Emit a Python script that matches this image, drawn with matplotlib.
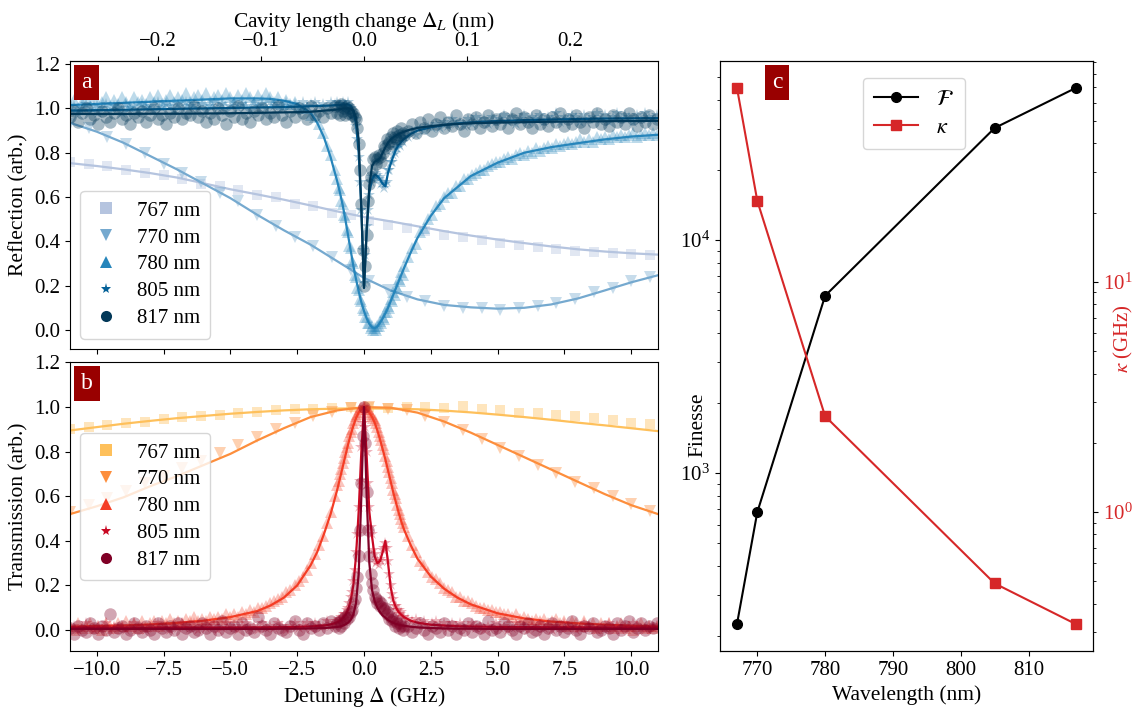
import numpy as np
import matplotlib
matplotlib.use("Agg")
import matplotlib.pyplot as plt
from matplotlib.ticker import MultipleLocator, FormatStrFormatter

plt.rcParams["font.family"] = ["Liberation Serif", "DejaVu Serif"]
plt.rcParams["mathtext.fontset"] = "stix"
plt.rcParams["font.size"] = 15

# ---------------- data ----------------
series_labels = ["767 nm", "770 nm", "780 nm", "805 nm", "817 nm"]
markers = ["s", "v", "^", "*", "o"]

# detuning grids (GHz)
det_sparse = np.round(np.arange(-11.0, 11.0, 0.7), 1)
det_dense = np.round(np.concatenate([np.arange(-11.0, -1.05, 0.15),
                                     np.arange(-1.0, 1.525, 0.05),
                                     np.arange(1.65, 10.96, 0.15)]), 2)
det_broad = np.arange(-11, 12, 1)
det_fit = [-11, -10, -9, -8, -7, -6, -5, -4, -3.5, -3, -2.5, -2, -1.75, -1.5, -1.25,
           -1.0, -0.9, -0.8, -0.7, -0.6, -0.5, -0.4, -0.3, -0.2, -0.1, 0.0, 0.1, 0.2,
           0.3, 0.4, 0.5, 0.6, 0.7, 0.8, 0.9, 1.0, 1.1, 1.2, 1.3, 1.4, 1.5, 1.75, 2.0,
           2.5, 3, 3.5, 4, 5, 6, 7, 8, 9, 10, 11]

# reflection, measured
refl_767 = [0.76, 0.75, 0.74, 0.72, 0.71, 0.70, 0.68, 0.66, 0.65, 0.63, 0.61, 0.60,
            0.57, 0.56, 0.53, 0.52, 0.49, 0.475, 0.46, 0.445, 0.43, 0.418, 0.405,
            0.393, 0.382, 0.374, 0.366, 0.358, 0.352, 0.347, 0.342, 0.338]
refl_770 = [0.93, 0.91, 0.87, 0.84, 0.80, 0.75, 0.71, 0.67, 0.62, 0.58, 0.52, 0.47,
            0.42, 0.38, 0.33, 0.27, 0.22, 0.18, 0.15, 0.13, 0.11, 0.10, 0.10, 0.09,
            0.10, 0.11, 0.12, 0.14, 0.17, 0.19, 0.22, 0.24]
refl_780 = [1.02, 1.04, 1.00, 1.03, 1.05, 1.01, 1.04, 1.02, 1.03, 1.05,
            1.01, 1.04, 1.02, 1.05, 1.03, 1.01, 1.05, 1.03, 1.04, 1.02,
            1.05, 1.03, 1.06, 1.02, 1.04, 1.06, 1.03, 1.05, 1.04, 1.07,
            1.03, 1.05, 1.06, 1.04, 1.07, 1.03, 1.05, 1.06, 1.04, 1.07,
            1.05, 1.03, 1.06, 1.04, 1.07, 1.05, 1.03, 1.06, 1.04, 1.07,
            1.05, 1.03, 1.05, 1.02, 1.04, 1.02, 1.03, 1.01, 1.00, 1.00,
            0.97, 0.96, 0.93, 0.89, 0.83, 0.79, 0.72,
            0.68, 0.64, 0.63, 0.58, 0.57, 0.52, 0.51, 0.45, 0.44, 0.38,
            0.37, 0.31, 0.30, 0.25, 0.24, 0.19, 0.18, 0.14, 0.13, 0.10,
            0.09, 0.06, 0.06, 0.03, 0.03, 0.01, 0.02, 0.00, 0.01, 0.00,
            0.02, 0.02, 0.04, 0.03, 0.06, 0.05, 0.08, 0.08, 0.11, 0.10,
            0.14, 0.13, 0.17, 0.16, 0.20, 0.19, 0.23, 0.22, 0.26, 0.25,
            0.29,
            0.33, 0.37, 0.39, 0.44, 0.46, 0.50, 0.52, 0.56, 0.57, 0.60,
            0.62, 0.62, 0.65, 0.65, 0.68, 0.68, 0.70, 0.71, 0.72, 0.72,
            0.74, 0.75, 0.76, 0.76, 0.77, 0.78, 0.77, 0.79, 0.80, 0.79,
            0.81, 0.80, 0.82, 0.81, 0.82, 0.83, 0.82, 0.84, 0.83, 0.84,
            0.85, 0.84, 0.85, 0.86, 0.85, 0.86, 0.85, 0.87, 0.86, 0.87,
            0.86, 0.88, 0.87, 0.88, 0.87, 0.88, 0.89, 0.87, 0.88, 0.89,
            0.88, 0.89, 0.88]
refl_805 = [0.99, 1.01, 0.98, 1.00, 1.02, 0.99, 1.01, 0.98, 1.00, 1.02,
            0.99, 1.01, 1.00, 0.98, 1.02, 1.00, 1.01, 0.99, 1.02, 1.00,
            1.01, 0.99, 1.03, 1.00, 1.02, 1.01, 0.99, 1.02, 1.00, 1.03,
            1.01, 1.02, 1.00, 1.02, 0.99, 1.01, 1.03, 1.00, 1.02, 0.99,
            1.01, 1.03, 1.00, 1.02, 1.01, 0.99, 1.03, 1.01, 1.02, 1.00,
            1.03, 1.01, 1.02, 1.00, 1.03, 1.01, 1.02, 1.00, 1.03, 1.01,
            1.02, 1.03, 1.01, 1.02, 1.00, 1.03, 1.02,
            1.03, 1.01, 1.02, 1.00, 1.03, 1.01, 1.02, 1.00, 1.03, 1.01,
            1.00, 0.99, 0.97, 0.95, 0.92, 0.86, 0.78, 0.67, 0.54, 0.36,
            0.21, 0.34, 0.47, 0.54, 0.61, 0.67, 0.69, 0.68, 0.71, 0.69,
            0.70, 0.68, 0.69, 0.66, 0.67, 0.64, 0.66, 0.67, 0.72, 0.72,
            0.76, 0.76, 0.79, 0.80, 0.82, 0.82, 0.84, 0.83, 0.86, 0.85,
            0.87,
            0.87, 0.90, 0.88, 0.91, 0.90, 0.92, 0.91, 0.93, 0.91, 0.94,
            0.92, 0.95, 0.93, 0.94, 0.92, 0.95, 0.93, 0.96, 0.94, 0.95,
            0.93, 0.96, 0.94, 0.95, 0.97, 0.94, 0.96, 0.93, 0.95, 0.97,
            0.94, 0.96, 0.95, 0.97, 0.94, 0.96, 0.95, 0.98, 0.94, 0.96,
            0.95, 0.97, 0.96, 0.94, 0.97, 0.95, 0.96, 0.98, 0.95, 0.97,
            0.94, 0.96, 0.98, 0.95, 0.97, 0.96, 0.94, 0.97, 0.95, 0.98,
            0.96, 0.95, 0.97]
refl_817 = [0.96, 0.99, 0.94, 0.98, 1.00, 0.95, 0.97, 0.93, 0.99, 0.96,
            0.94, 0.98, 1.00, 0.95, 0.97, 0.93, 0.98, 0.96, 0.99, 0.94,
            0.97, 1.00, 0.95, 0.97, 0.93, 0.98, 0.96, 1.00, 0.95, 0.98,
            0.97, 1.01, 0.96, 0.99, 0.94, 0.98, 0.95, 1.00, 0.97, 0.93,
            0.99, 0.96, 1.01, 0.95, 0.98, 0.94, 0.99, 0.97, 1.00, 0.95,
            0.98, 0.96, 1.01, 0.97, 0.94, 0.99, 0.96, 1.00, 0.98, 0.95,
            1.01, 0.97, 0.99, 0.96, 1.00, 0.98, 1.01,
            0.98, 1.01, 0.97, 1.02, 0.99, 1.00, 0.97, 1.01, 0.98, 1.00,
            0.99, 0.97, 0.98, 0.96, 0.95, 0.91, 0.84, 0.72, 0.57, 0.36,
            0.20, 0.29, 0.43, 0.58, 0.66, 0.69, 0.72, 0.77, 0.78, 0.75,
            0.77, 0.79, 0.78, 0.76, 0.80, 0.83, 0.82, 0.86, 0.84, 0.85,
            0.87, 0.84, 0.89, 0.87, 0.86, 0.90, 0.88, 0.86, 0.91, 0.89,
            0.88,
            0.90, 0.93, 0.89, 0.94, 0.91, 0.95, 0.90, 0.93, 0.96, 0.91,
            0.94, 0.92, 0.97, 0.93, 0.90, 0.95, 0.93, 0.96, 0.91, 0.94,
            0.97, 0.92, 0.95, 0.93, 0.96, 0.91, 0.95, 0.98, 0.93, 0.96,
            0.94, 0.91, 0.97, 0.93, 0.95, 0.92, 0.96, 0.94, 0.98, 0.92,
            0.95, 0.93, 0.97, 0.94, 0.91, 0.96, 0.94, 0.98, 0.93, 0.95,
            0.92, 0.97, 0.94, 0.96, 0.93, 0.98, 0.95, 0.92, 0.96, 0.94,
            0.97, 0.93, 0.95]

# reflection, fitted
refl_fit_767 = [0.753, 0.740, 0.725, 0.708, 0.688, 0.662, 0.635, 0.612, 0.588, 0.562,
                0.535, 0.510, 0.490, 0.468, 0.446, 0.426, 0.408, 0.392, 0.377, 0.364,
                0.354, 0.346, 0.340]
refl_fit_770 = [0.935, 0.895, 0.845, 0.785, 0.725, 0.660, 0.595, 0.520, 0.450, 0.385,
                0.310, 0.235, 0.178, 0.138, 0.113, 0.102, 0.096, 0.100, 0.115, 0.142,
                0.178, 0.215, 0.247]
refl_fit_780 = [1.015, 1.020, 1.025, 1.030, 1.035, 1.040, 1.045, 1.045, 1.043, 1.035,
                1.020, 0.980, 0.935, 0.870, 0.780, 0.670, 0.620, 0.565, 0.500, 0.430,
                0.360, 0.290, 0.230, 0.175, 0.125, 0.085, 0.052, 0.027, 0.012, 0.008,
                0.015, 0.033, 0.052, 0.075, 0.100, 0.130, 0.160, 0.190, 0.220, 0.250,
                0.280, 0.350, 0.415, 0.515, 0.595, 0.645, 0.695, 0.755, 0.800, 0.825,
                0.843, 0.860, 0.873, 0.881]
refl_fit_805 = [0.990, 0.992, 0.994, 0.996, 0.998, 1.000, 1.002, 1.004, 1.005, 1.006,
                1.008, 1.010, 1.011, 1.012, 1.013, 1.015, 1.016, 1.017, 1.018, 1.018,
                1.012, 0.990, 0.930, 0.800, 0.550, 0.190, 0.450, 0.620, 0.680, 0.700,
                0.695, 0.680, 0.660, 0.648, 0.710, 0.750, 0.785, 0.815, 0.835, 0.850,
                0.862, 0.885, 0.900, 0.915, 0.925, 0.932, 0.937, 0.943, 0.947, 0.950,
                0.952, 0.954, 0.955, 0.956]
refl_fit_817 = [0.975, 0.975, 0.975, 0.976, 0.976, 0.977, 0.978, 0.980, 0.981, 0.982,
                0.983, 0.985, 0.987, 0.990, 0.992, 0.995, 0.997, 0.999, 1.000, 1.000,
                0.998, 0.990, 0.960, 0.860, 0.550, 0.190, 0.450, 0.650, 0.740, 0.760,
                0.765, 0.775, 0.800, 0.825, 0.845, 0.860, 0.870, 0.878, 0.885, 0.890,
                0.895, 0.905, 0.912, 0.920, 0.926, 0.930, 0.933, 0.936, 0.938, 0.940,
                0.941, 0.942, 0.943, 0.944]

# transmission, measured
trans_767 = [0.90, 0.91, 0.92, 0.93, 0.935, 0.945, 0.955, 0.96, 0.965, 0.975, 0.98,
             0.985, 0.99, 0.99, 0.995, 1.0, 1.0, 0.995, 1.0, 1.0, 0.995, 1.005, 0.99,
             0.985, 0.975, 0.975, 0.965, 0.96, 0.95, 0.94, 0.93, 0.925]
trans_770 = [0.53, 0.56, 0.59, 0.625, 0.66, 0.69, 0.725, 0.76, 0.795, 0.83, 0.865,
             0.90, 0.93, 0.96, 0.98, 0.995, 1.0, 0.99, 0.985, 0.96, 0.935, 0.895,
             0.855, 0.815, 0.78, 0.74, 0.705, 0.665, 0.635, 0.60, 0.565, 0.535]
trans_780 = [0.02, 0.00, 0.03, 0.01, 0.02, 0.03, 0.01, 0.02, 0.00, 0.03,
             0.02, 0.01, 0.03, 0.02, 0.04, 0.02, 0.03, 0.01, 0.04, 0.02,
             0.03, 0.04, 0.02, 0.04, 0.03, 0.05, 0.03, 0.04, 0.03, 0.05,
             0.04, 0.06, 0.04, 0.05, 0.04, 0.06, 0.05, 0.06, 0.05, 0.07,
             0.06, 0.07, 0.06, 0.08, 0.07, 0.09, 0.08, 0.10, 0.10, 0.11,
             0.12, 0.13, 0.14, 0.15, 0.17, 0.18, 0.20, 0.22, 0.24, 0.27,
             0.30, 0.34, 0.38, 0.42, 0.48, 0.53, 0.60,
             0.65, 0.67, 0.70, 0.72, 0.75, 0.77, 0.80, 0.82, 0.84, 0.87,
             0.89, 0.90, 0.93, 0.94, 0.96, 0.97, 0.98, 0.99, 1.00, 1.00,
             1.00, 1.00, 0.99, 0.99, 0.98, 0.97, 0.96, 0.95, 0.94, 0.93,
             0.91, 0.89, 0.87, 0.85, 0.83, 0.81, 0.78, 0.76, 0.73, 0.71,
             0.68, 0.66, 0.63, 0.61, 0.59, 0.56, 0.54, 0.52, 0.50, 0.48,
             0.46,
             0.42, 0.38, 0.35, 0.31, 0.29, 0.26, 0.24, 0.23, 0.21, 0.19,
             0.18, 0.17, 0.15, 0.15, 0.13, 0.13, 0.12, 0.11, 0.10, 0.10,
             0.09, 0.09, 0.08, 0.08, 0.07, 0.07, 0.06, 0.07, 0.05, 0.06,
             0.05, 0.04, 0.05, 0.04, 0.05, 0.03, 0.04, 0.05, 0.03, 0.04,
             0.02, 0.04, 0.03, 0.02, 0.04, 0.02, 0.03, 0.01, 0.03, 0.02,
             0.03, 0.01, 0.02, 0.03, 0.01, 0.02, 0.00, 0.02, 0.03, 0.01,
             0.02, 0.01, 0.02]
trans_805 = [0.01, 0.02, 0.00, 0.01, 0.03, 0.01, 0.00, 0.02, 0.01, 0.03,
             0.00, 0.02, 0.01, 0.02, 0.00, 0.01, 0.03, 0.01, 0.02, 0.00,
             0.02, 0.01, 0.03, 0.01, 0.02, 0.00, 0.02, 0.01, 0.03, 0.02,
             0.01, 0.03, 0.00, 0.02, 0.01, 0.03, 0.02, 0.00, 0.01, 0.03,
             0.02, 0.01, 0.00, 0.02, 0.03, 0.01, 0.02, 0.00, 0.03, 0.01,
             0.02, 0.01, 0.03, 0.02, 0.00, 0.02, 0.03, 0.01, 0.02, 0.03,
             0.01, 0.03, 0.02, 0.02, 0.04, 0.02, 0.03,
             0.04, 0.05, 0.04, 0.06, 0.05, 0.07, 0.07, 0.09, 0.10, 0.12,
             0.15, 0.17, 0.22, 0.27, 0.35, 0.43, 0.55, 0.67, 0.82, 0.93,
             1.00, 0.91, 0.80, 0.66, 0.55, 0.46, 0.43, 0.36, 0.34, 0.30,
             0.31, 0.29, 0.32, 0.31, 0.36, 0.37, 0.39, 0.37, 0.31, 0.25,
             0.20, 0.16, 0.14, 0.11, 0.11, 0.09, 0.09, 0.07, 0.08, 0.06,
             0.06,
             0.05, 0.04, 0.05, 0.03, 0.04, 0.02, 0.03, 0.04, 0.02, 0.03,
             0.01, 0.03, 0.02, 0.03, 0.01, 0.02, 0.03, 0.01, 0.02, 0.00,
             0.02, 0.01, 0.03, 0.01, 0.02, 0.00, 0.01, 0.03, 0.02, 0.01,
             0.00, 0.02, 0.01, 0.03, 0.01, 0.02, 0.00, 0.02, 0.01, 0.03,
             0.01, 0.02, 0.00, 0.01, 0.03, 0.02, 0.01, 0.00, 0.02, 0.01,
             0.03, 0.01, 0.02, 0.00, 0.02, 0.01, 0.03, 0.02, 0.01, 0.00,
             0.02, 0.01, 0.02]
trans_817 = [0.01, -0.02, 0.02, 0.00, -0.01, 0.03, 0.01, -0.02, 0.02, 0.00,
             0.07, -0.01, 0.01, 0.02, -0.02, 0.00, 0.03, 0.01, -0.01, 0.02,
             0.00, -0.02, 0.03, 0.01, -0.01, 0.02, 0.00, 0.03, -0.02, 0.01,
             0.02, -0.01, 0.00, 0.03, 0.01, -0.02, 0.02, 0.00, 0.04, -0.01,
             0.01, 0.02, -0.02, 0.03, 0.00, 0.01, -0.01, 0.06, 0.02, 0.00,
             -0.02, 0.03, 0.01, 0.00, -0.01, 0.02, 0.04, 0.00, -0.02, 0.03,
             0.01, 0.02, 0.00, 0.03, 0.01, 0.04, 0.02,
             0.03, 0.01, 0.04, 0.02, 0.05, 0.03, 0.06, 0.05, 0.07, 0.06,
             0.08, 0.09, 0.12, 0.14, 0.19, 0.24, 0.33, 0.45, 0.66, 0.87,
             1.00, 0.84, 0.62, 0.45, 0.33, 0.25, 0.21, 0.18, 0.15, 0.14,
             0.12, 0.13, 0.11, 0.12, 0.10, 0.09, 0.10, 0.07, 0.08, 0.05,
             0.06, 0.04, 0.05, 0.02, 0.04, 0.03, 0.01, 0.03, 0.02, 0.00,
             0.02,
             0.02, -0.01, 0.01, 0.03, 0.00, -0.02, 0.02, 0.01, -0.01, 0.03,
             0.00, 0.02, -0.02, 0.01, 0.00, 0.03, -0.01, 0.02, 0.01, -0.02,
             0.04, 0.00, 0.01, -0.01, 0.03, 0.02, 0.00, -0.02, 0.02, 0.01,
             0.03, -0.01, 0.00, 0.02, -0.02, 0.01, 0.03, 0.00, 0.02, -0.01,
             0.01, 0.04, 0.00, -0.02, 0.02, 0.01, 0.03, -0.01, 0.00, 0.02,
             0.01, -0.02, 0.03, 0.00, 0.02, 0.04, -0.01, 0.01, 0.03, 0.00,
             0.02, 0.01, 0.03]

# transmission, fitted
trans_fit_767 = [0.895, 0.910, 0.925, 0.938, 0.950, 0.960, 0.970, 0.978, 0.985, 0.990,
                 0.993, 0.994, 0.993, 0.990, 0.984, 0.976, 0.966, 0.955, 0.943, 0.930,
                 0.918, 0.905, 0.892]
trans_fit_770 = [0.520, 0.555, 0.595, 0.645, 0.690, 0.740, 0.790, 0.850, 0.905, 0.955,
                 0.985, 1.000, 0.997, 0.975, 0.935, 0.885, 0.830, 0.775, 0.720, 0.665,
                 0.610, 0.560, 0.520]
trans_fit_780 = [0.015, 0.018, 0.020, 0.025, 0.032, 0.042, 0.058, 0.085, 0.110, 0.145,
                 0.200, 0.290, 0.350, 0.430, 0.520, 0.630, 0.680, 0.730, 0.780, 0.830,
                 0.875, 0.915, 0.950, 0.975, 0.993, 1.000, 0.990, 0.975, 0.955, 0.930,
                 0.895, 0.855, 0.810, 0.765, 0.715, 0.665, 0.615, 0.570, 0.525, 0.485,
                 0.450, 0.380, 0.320, 0.240, 0.185, 0.145, 0.115, 0.075, 0.052, 0.038,
                 0.030, 0.024, 0.019, 0.016]
trans_fit_805 = [0.010, 0.010, 0.010, 0.010, 0.011, 0.011, 0.011, 0.012, 0.012, 0.013,
                 0.014, 0.016, 0.018, 0.020, 0.025, 0.035, 0.042, 0.052, 0.066, 0.090,
                 0.130, 0.200, 0.330, 0.530, 0.800, 1.000, 0.780, 0.530, 0.420, 0.330,
                 0.300, 0.310, 0.350, 0.400, 0.300, 0.190, 0.130, 0.100, 0.080, 0.068,
                 0.058, 0.042, 0.033, 0.024, 0.020, 0.017, 0.016, 0.014, 0.013, 0.012,
                 0.012, 0.011, 0.011, 0.010]
trans_fit_817 = [0.005, 0.005, 0.005, 0.005, 0.005, 0.005, 0.005, 0.005, 0.005, 0.006,
                 0.006, 0.007, 0.008, 0.009, 0.011, 0.014, 0.016, 0.020, 0.025, 0.033,
                 0.045, 0.070, 0.120, 0.250, 0.600, 1.000, 0.600, 0.300, 0.180, 0.130,
                 0.100, 0.080, 0.065, 0.055, 0.045, 0.038, 0.032, 0.027, 0.024, 0.021,
                 0.019, 0.015, 0.012, 0.009, 0.007, 0.006, 0.006, 0.005, 0.005, 0.005,
                 0.005, 0.005, 0.005, 0.005]

# panel c
wavelength_nm = [767, 770, 780, 805, 817]
finesse = [225, 680, 5760, 30200, 44900]
kappa_ghz = [69.7, 22.5, 2.61, 0.49, 0.326]

nm_per_ghz = 0.0259

refl_meas = [(det_sparse, refl_767), (det_sparse, refl_770), (det_dense, refl_780),
             (det_dense, refl_805), (det_dense, refl_817)]
refl_fits = [(det_broad, refl_fit_767), (det_broad, refl_fit_770), (det_fit, refl_fit_780),
             (det_fit, refl_fit_805), (det_fit, refl_fit_817)]
trans_meas = [(det_sparse, trans_767), (det_sparse, trans_770), (det_dense, trans_780),
              (det_dense, trans_805), (det_dense, trans_817)]
trans_fits = [(det_broad, trans_fit_767), (det_broad, trans_fit_770), (det_fit, trans_fit_780),
              (det_fit, trans_fit_805), (det_fit, trans_fit_817)]

blues = plt.get_cmap("PuBu")(np.linspace(0.33, 1.0, 5))
reds = plt.get_cmap("YlOrRd")(np.linspace(0.33, 1.0, 5))
msizes = [7, 8, 8, 9, 9]
alphas = [0.4, 0.4, 0.3, 0.3, 0.35]


def panel_tag(ax, letter, x, y):
    ax.text(x, y, letter, transform=ax.transAxes, ha="left", va="top", color="white",
            fontsize=17, zorder=10,
            bbox=dict(boxstyle="square,pad=0.3", fc="#990000", ec="none"))


def draw_scans(ax, meas, fits, colors, loc):
    for (x, y), (xf, yf), c, m, ms, a, lab in zip(meas, fits, colors, markers, msizes,
                                                   alphas, series_labels):
        ax.plot(x, y, ls="none", marker=m, ms=ms, mew=0, color=c, alpha=a, label=lab)
        ax.plot(xf, yf, color=c, lw=1.6)
    leg = ax.legend(loc=loc, handlelength=1.5, handletextpad=0.7, borderpad=0.5,
                    labelspacing=0.35, fontsize=15)
    for h in leg.legend_handles:
        h.set_alpha(1)
        h.set_markersize(8)
    ax.yaxis.set_major_locator(MultipleLocator(0.2))
    ax.yaxis.set_major_formatter(FormatStrFormatter("%.1f"))


W, H = 1137, 711
fig = plt.figure(figsize=(W / 100, H / 100), dpi=100)
ax_a = fig.add_axes([70 / W, 1 - 349 / H, 588 / W, 288 / H])
ax_b = fig.add_axes([70 / W, 1 - 651 / H, 588 / W, 289 / H], sharex=ax_a)
ax_c = fig.add_axes([720 / W, 1 - 651 / H, 373 / W, 590 / H])

draw_scans(ax_a, refl_meas, refl_fits, blues, "lower left")
draw_scans(ax_b, trans_meas, trans_fits, reds, "center left")

ax_a.set_xlim(-11, 11)
ax_a.set_ylim(-0.086, 1.214)
ax_b.set_ylim(-0.094, 1.202)
ax_a.tick_params(labelbottom=False)
ax_a.set_ylabel("Reflection (arb.)", fontsize=15.5)
ax_b.set_ylabel("Transmission (arb.)", fontsize=15.5)
ax_b.set_xlabel(r"Detuning $\Delta$ (GHz)", fontsize=15.5)

top = ax_a.secondary_xaxis("top", functions=(lambda d: d * nm_per_ghz,
                                              lambda l: l / nm_per_ghz))
top.set_xlabel(r"Cavity length change $\Delta_L$ (nm)", fontsize=15.5)

panel_tag(ax_a, "a", 0.019, 0.962)
panel_tag(ax_b, "b", 0.019, 0.962)

# panel c
ln1, = ax_c.plot(wavelength_nm, finesse, color="black", marker="o", ms=7, lw=1.5,
                 label=r"$\mathcal{F}$")
ax_c.set_yscale("log")
ax_c.xaxis.set_major_locator(MultipleLocator(10))
ax_c.set_ylabel("Finesse", fontsize=15.5)
ax_c.yaxis.set_label_coords(-0.035, 0.384)
ax_c.set_xlabel("Wavelength (nm)", fontsize=15.5)
ax_k = ax_c.twinx()
ln2, = ax_k.plot(wavelength_nm, kappa_ghz, color="#d62728", marker="s", ms=7, lw=1.5,
                 label=r"$\kappa$")
ax_k.set_yscale("log")
ax_k.set_ylabel(r"$\kappa$ (GHz)", color="#d62728", fontsize=15)
ax_k.yaxis.set_label_coords(1.052, 0.53)
ax_k.tick_params(axis="y", which="both", labelcolor="#d62728")
ax_c.legend(handles=[ln1, ln2], loc="upper center", bbox_to_anchor=(0.52, 0.99),
            handlelength=2.0, borderpad=0.5, labelspacing=0.35, fontsize=16)
panel_tag(ax_c, "c", 0.139, 0.981)

fig.savefig("out.png", dpi=100)
